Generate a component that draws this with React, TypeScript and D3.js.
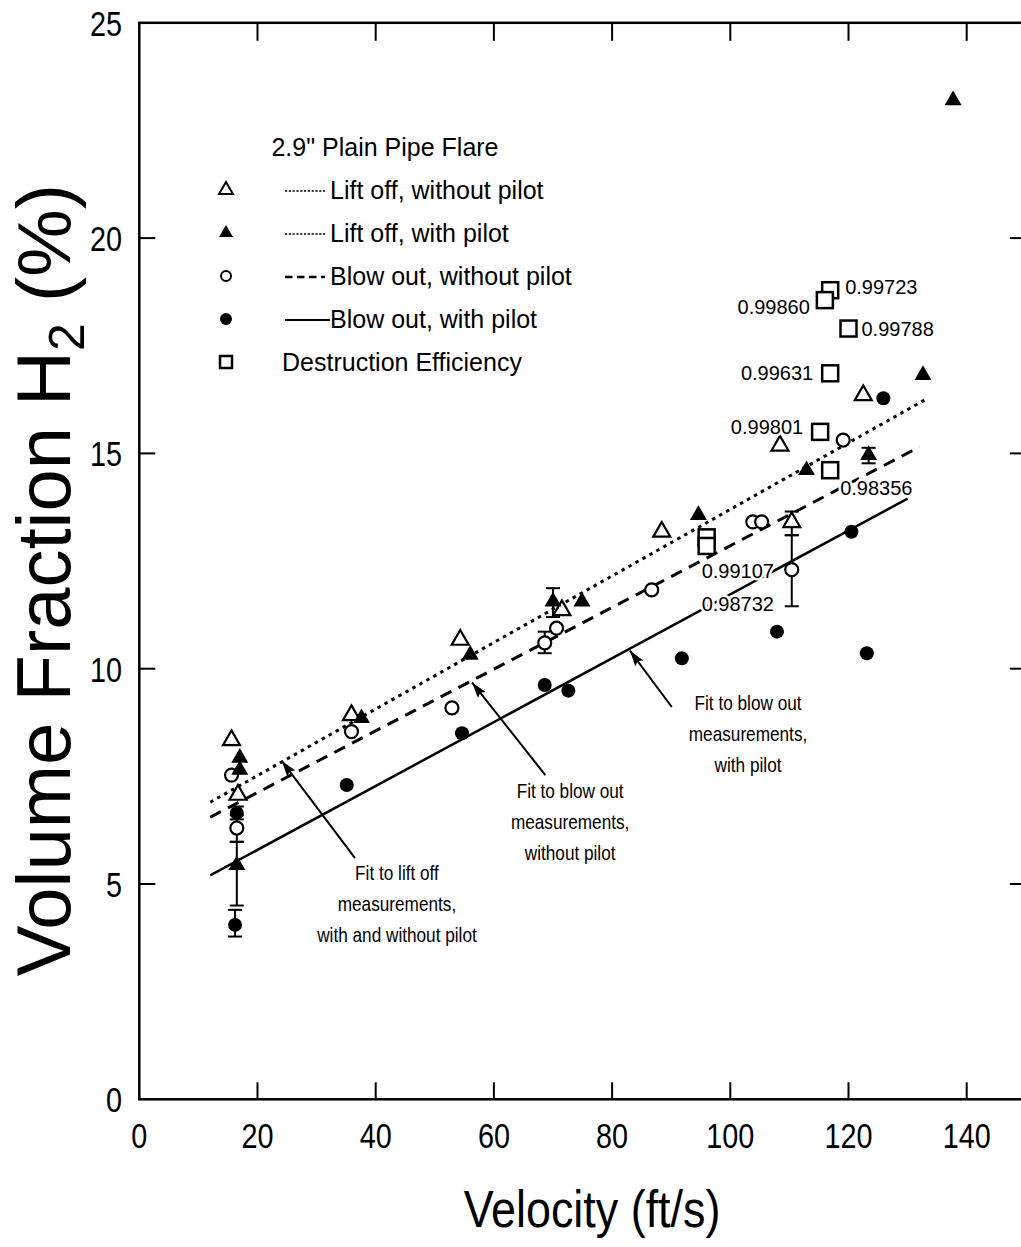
import React from 'react';
import * as d3 from 'd3';

const W = 1021;
const H = 1247;
const FONT = '"Liberation Sans", Arial, Helvetica, sans-serif';

// axis ticks
const xTicks = [0, 20, 40, 60, 80, 100, 120, 140];
const yTicks = [0, 5, 10, 15, 20, 25];

// Lift off, without pilot (open triangles)
const liftOffNoPilot = [
  { v: 15.6, f: 8.34 }, { v: 16.7, f: 7.07 }, { v: 35.9, f: 8.92 }, { v: 54.3, f: 10.67 },
  { v: 71.5, f: 11.36 }, { v: 88.4, f: 13.18 }, { v: 110.4, f: 13.4, lo: 13.1, hi: 13.65 },
  { v: 108.4, f: 15.18 }, { v: 122.5, f: 16.35 },
];

// Lift off, with pilot (filled triangles)
const liftOffPilot = [
  { v: 17.0, f: 7.93 }, { v: 17.0, f: 7.65 }, { v: 16.5, f: 5.44, lo: 4.5, hi: 5.98 },
  { v: 37.6, f: 8.85 }, { v: 56.0, f: 10.32 }, { v: 70.0, f: 11.56, lo: 11.2, hi: 11.87 },
  { v: 74.9, f: 11.56 }, { v: 94.6, f: 13.57 }, { v: 112.9, f: 14.61 },
  { v: 123.4, f: 14.96, lo: 14.77, hi: 15.13 }, { v: 132.6, f: 16.82 }, { v: 137.7, f: 23.2 },
];

// Blow out, without pilot (open circles)
const blowOutNoPilot = [
  { v: 15.6, f: 7.53 }, { v: 16.5, f: 6.3, lo: 5.98, hi: 6.6 }, { v: 35.9, f: 8.54 },
  { v: 52.9, f: 9.09 }, { v: 68.6, f: 10.6, lo: 10.36, hi: 10.86 }, { v: 70.6, f: 10.94 },
  { v: 86.7, f: 11.83 }, { v: 103.8, f: 13.41 }, { v: 105.3, f: 13.41 },
  { v: 110.4, f: 12.3, lo: 11.45, hi: 13.1 }, { v: 119.1, f: 15.31 },
];

// Blow out, with pilot (filled circles)
const blowOutPilot = [
  { v: 16.5, f: 6.65, lo: 6.5, hi: 6.8 }, { v: 16.2, f: 4.05, lo: 3.78, hi: 4.4 },
  { v: 35.1, f: 7.3 }, { v: 54.6, f: 8.5 }, { v: 68.6, f: 9.62 }, { v: 72.6, f: 9.49 },
  { v: 91.8, f: 10.24 }, { v: 107.9, f: 10.86 }, { v: 120.5, f: 13.18 }, { v: 123.1, f: 10.36 },
  { v: 125.9, f: 16.28 },
];

// Destruction efficiency (squares)
const efficiency = [
  { v: 116.9, f: 18.79, label: '0.99723' },
  { v: 116.0, f: 18.56, label: '0.99860' },
  { v: 120.0, f: 17.9, label: '0.99788' },
  { v: 116.9, f: 16.86, label: '0.99631' },
  { v: 115.2, f: 15.5, label: '0.99801' },
  { v: 116.9, f: 14.61, label: '0.98356' },
  { v: 96.0, f: 13.05, label: '0.99107' },
  { v: 96.0, f: 12.85, label: '0.98732' },
];
// where each efficiency label sits relative to its square (px)
const effLabelPos = [
  { dx: 15, dy: -3, anchor: 'start' },
  { dx: -15, dy: 7, anchor: 'end' },
  { dx: 13, dy: 0, anchor: 'start' },
  { dx: -17, dy: 0, anchor: 'end' },
  { dx: -17, dy: -5, anchor: 'end' },
  { dx: 10, dy: 18, anchor: 'start' },
  { dx: -5, dy: 34, anchor: 'start' },
  { dx: -5, dy: 58, anchor: 'start' },
];

// fitted lines
const fitLiftOff = [{ v: 12, f: 6.9 }, { v: 133, f: 16.25 }];
const fitBlowOutNoPilot = [{ v: 12, f: 6.55 }, { v: 132, f: 15.15 }];
const fitBlowOutPilot = [{ v: 12, f: 5.2 }, { v: 130, f: 13.95 }];

// callouts: text centre (v, f) + arrow tail/tip in data units
const callouts = [
  { lines: ['Fit to lift off', 'measurements,', 'with and without pilot'], tv: 43.6, tf: 5.1,
    from: { v: 36.5, f: 5.6 }, to: { v: 24.1, f: 7.86 } },
  { lines: ['Fit to blow out', 'measurements,', 'without pilot'], tv: 72.9, tf: 7.0,
    from: { v: 68.7, f: 7.53 }, to: { v: 56.3, f: 9.68 } },
  { lines: ['Fit to blow out', 'measurements,', 'with pilot'], tv: 103.0, tf: 9.05,
    from: { v: 90.1, f: 9.11 }, to: { v: 83.0, f: 10.42 } },
];

const legendItems = [
  { sym: 'triOpen', line: 'dotted', text: 'Lift off, without pilot' },
  { sym: 'triFill', line: 'dotted', text: 'Lift off, with pilot' },
  { sym: 'circOpen', line: 'dashed', text: 'Blow out, without pilot' },
  { sym: 'circFill', line: 'solid', text: 'Blow out, with pilot' },
  { sym: 'square', line: 'none', text: 'Destruction Efficiency' },
];

const x = d3.scaleLinear().domain([0, 150]).range([139.3, 139.3 + 5.91 * 150]);
const y = d3.scaleLinear().domain([0, 25]).range([1099.3, 22.8]);

const line = d3.line<{ v: number; f: number }>().x(d => x(d.v)).y(d => y(d.f));
const tri = d3.symbol().type(d3.symbolTriangle).size(125)();
const triLegend = d3.symbol().type(d3.symbolTriangle).size(85)();

const CText = ({ x, y, sx = 1, anchor = 'middle', size, children, weight = 'normal' }: any) => (
  <g transform={`translate(${x},${y}) scale(${sx},1)`}>
    <text textAnchor={anchor} fontSize={size} fontFamily={FONT} fontWeight={weight} fill="#000">
      {children}
    </text>
  </g>
);

const ErrBar = ({ d }: any) => {
  if (d.lo === undefined) return null;
  const px = x(d.v);
  return (
    <g stroke="#000" strokeWidth={2}>
      <line x1={px} x2={px} y1={y(d.lo)} y2={y(d.hi)} />
      <line x1={px - 7} x2={px + 7} y1={y(d.lo)} y2={y(d.lo)} />
      <line x1={px - 7} x2={px + 7} y1={y(d.hi)} y2={y(d.hi)} />
    </g>
  );
};

export default function App() {
  const x0 = x(0);
  const x1 = x(150);
  const yTop = y(25);
  const yBot = y(0);

  return (
    <svg width={W} height={H} style={{ position: 'absolute', left: 0, top: 0, background: '#fff' }}>
      <defs>
        <marker id="arrow" markerUnits="userSpaceOnUse" markerWidth={18} markerHeight={12}
          refX={16} refY={5} orient="auto">
          <path d="M0,0 L16,5 L0,10 L3,5 z" fill="#000" />
        </marker>
      </defs>
      <rect width={W} height={H} fill="#fff" />

      {/* frame */}
      <g stroke="#000" strokeWidth={2.5} fill="none">
        <rect x={x0} y={yTop} width={x1 - x0} height={yBot - yTop} />
      </g>

      {/* ticks */}
      <g stroke="#000" strokeWidth={2}>
        {xTicks.filter(t => t > 0).map(t => (
          <g key={'xt' + t}>
            <line x1={x(t)} x2={x(t)} y1={yBot} y2={yBot - 17} />
            <line x1={x(t)} x2={x(t)} y1={yTop} y2={yTop + 18} />
          </g>
        ))}
        {yTicks.filter(t => t > 0 && t < 25).map(t => (
          <g key={'yt' + t}>
            <line x1={x0} x2={x0 + 16} y1={y(t)} y2={y(t)} />
            <line x1={x1} x2={x1 - 16} y1={y(t)} y2={y(t)} />
          </g>
        ))}
      </g>

      {xTicks.map(t => (
        <CText key={'xl' + t} x={x(t)} y={1148} sx={0.8} size={36}>{t}</CText>
      ))}
      {yTicks.map(t => (
        <CText key={'yl' + t} x={122} y={y(t) + 13} sx={0.8} size={36} anchor="end">{t}</CText>
      ))}

      {/* axis titles */}
      <CText x={592} y={1227} sx={0.88} size={51}>Velocity (ft/s)</CText>
      <g transform="translate(70,580) rotate(-90)">
        <text textAnchor="middle" fontSize={76} fontFamily={FONT} fill="#000">
          Volume Fraction H<tspan fontSize={50} dy={14}>2</tspan>
          <tspan dy={-14}> (%)</tspan>
        </text>
      </g>

      {/* fits */}
      <path d={line(fitLiftOff) || ''} fill="none" stroke="#000" strokeWidth={3}
        strokeDasharray="3.5 4.5" />
      <path d={line(fitBlowOutNoPilot) || ''} fill="none" stroke="#000" strokeWidth={3}
        strokeDasharray="12 8" />
      <path d={line(fitBlowOutPilot) || ''} fill="none" stroke="#000" strokeWidth={2.5} />

      {/* callouts */}
      {callouts.map((c, i) => (
        <g key={'c' + i}>
          <line x1={x(c.from.v)} y1={y(c.from.f)} x2={x(c.to.v)} y2={y(c.to.f)}
            stroke="#000" strokeWidth={2} markerEnd="url(#arrow)" />
          {c.lines.map((t, j) => (
            <CText key={j} x={x(c.tv)} y={y(c.tf) + j * 31} sx={0.86} size={20}>{t}</CText>
          ))}
        </g>
      ))}

      {/* error bars */}
      {[...liftOffNoPilot, ...liftOffPilot, ...blowOutNoPilot, ...blowOutPilot].map((d, i) => (
        <ErrBar key={'e' + i} d={d} />
      ))}

      {/* markers */}
      {blowOutNoPilot.map((d, i) => (
        <circle key={'bo' + i} cx={x(d.v)} cy={y(d.f)} r={6.5} fill="#fff" stroke="#000" strokeWidth={2.2} />
      ))}
      {blowOutPilot.map((d, i) => (
        <circle key={'bp' + i} cx={x(d.v)} cy={y(d.f)} r={7} fill="#000" />
      ))}
      {liftOffNoPilot.map((d, i) => (
        <path key={'lo' + i} d={tri || ''} transform={`translate(${x(d.v)},${y(d.f)})`}
          fill="#fff" stroke="#000" strokeWidth={2.2} />
      ))}
      {liftOffPilot.map((d, i) => (
        <path key={'lp' + i} d={tri || ''} transform={`translate(${x(d.v)},${y(d.f)})`} fill="#000" />
      ))}
      {efficiency.map((d, i) => (
        <rect key={'sq' + i} x={x(d.v) - 8} y={y(d.f) - 8} width={16} height={16}
          fill="#fff" stroke="#000" strokeWidth={2.5} />
      ))}
      {efficiency.map((d, i) => {
        const p = effLabelPos[i];
        return (
          <g key={'sl' + i} transform={`translate(${x(d.v) + p.dx},${y(d.f) + p.dy + 7})`}>
            <text textAnchor={p.anchor} fontSize={20} fontFamily={FONT} fill="#000"
              stroke="#fff" strokeWidth={5} paintOrder="stroke" strokeLinejoin="round">
              {d.label}
            </text>
          </g>
        );
      })}

      {/* legend */}
      <text x={385} y={156} textAnchor="middle" fontSize={25} fontFamily={FONT} fill="#000">
        2.9" Plain Pipe Flare
      </text>
      {legendItems.map((it, i) => {
        const cy = 190 + i * 43;
        return (
          <g key={'lg' + i}>
            {it.sym === 'triOpen' && (
              <path d={triLegend || ''} transform={`translate(226,${cy})`} fill="#fff" stroke="#000" strokeWidth={2} />
            )}
            {it.sym === 'triFill' && (
              <path d={triLegend || ''} transform={`translate(226,${cy})`} fill="#000" />
            )}
            {it.sym === 'circOpen' && (
              <circle cx={226} cy={cy} r={5} fill="#fff" stroke="#000" strokeWidth={2} />
            )}
            {it.sym === 'circFill' && <circle cx={226} cy={cy} r={6} fill="#000" />}
            {it.sym === 'square' && (
              <rect x={220} y={cy - 6} width={12} height={12} fill="#fff" stroke="#000" strokeWidth={2.5} />
            )}
            {it.line === 'dotted' && (
              <line x1={285} x2={325} y1={cy + 1} y2={cy + 1} stroke="#000" strokeWidth={1.6} strokeDasharray="2.2 1.6" />
            )}
            {it.line === 'dashed' && (
              <line x1={285} x2={325} y1={cy + 1} y2={cy + 1} stroke="#000" strokeWidth={2.5} strokeDasharray="7.5 4.5" />
            )}
            {it.line === 'solid' && (
              <line x1={285} x2={330} y1={cy + 1} y2={cy + 1} stroke="#000" strokeWidth={2} />
            )}
            <text x={it.line === 'none' ? 282 : 330} y={cy + 9} fontSize={25} fontFamily={FONT} fill="#000">
              {it.text}
            </text>
          </g>
        );
      })}
    </svg>
  );
}
